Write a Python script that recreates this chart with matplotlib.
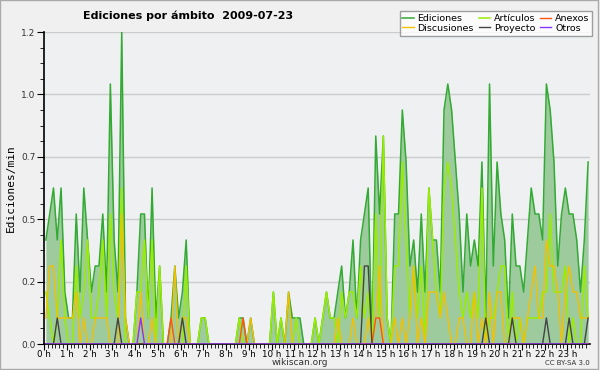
import matplotlib
matplotlib.use("Agg")
import matplotlib.pyplot as plt
import numpy as np
from matplotlib.patches import Rectangle

# Edits per minute, one value per 10-minute slot (6 per hour)
ediciones = [
    0.4, 0.5, 0.6, 0.4, 0.6, 0.2,
    0.1, 0.1, 0.5, 0.2, 0.6, 0.4,
    0.2, 0.3, 0.3, 0.5, 0.2, 1.0,
    0.4, 0.2, 1.2, 0.1, 0.0, 0.0,
    0.2, 0.5, 0.5, 0.1, 0.6, 0.1,
    0.3, 0.0, 0.0, 0.1, 0.3, 0.1,
    0.2, 0.4, 0.0, 0.0, 0.0, 0.1,
    0.1, 0.0, 0.0, 0.0, 0.0, 0.0,
    0.0, 0.0, 0.0, 0.1, 0.1, 0.0,
    0.1, 0.0, 0.0, 0.0, 0.0, 0.0,
    0.2, 0.0, 0.1, 0.0, 0.2, 0.1,
    0.1, 0.1, 0.0, 0.0, 0.0, 0.1,
    0.0, 0.1, 0.2, 0.1, 0.1, 0.2,
    0.3, 0.1, 0.2, 0.4, 0.1, 0.4,
    0.5, 0.6, 0.0, 0.8, 0.5, 0.8,
    0.1, 0.0, 0.5, 0.5, 0.9, 0.7,
    0.3, 0.4, 0.2, 0.5, 0.2, 0.6,
    0.4, 0.4, 0.2, 0.9, 1.0, 0.9,
    0.7, 0.5, 0.2, 0.5, 0.3, 0.4,
    0.3, 0.7, 0.1, 1.0, 0.3, 0.7,
    0.5, 0.4, 0.1, 0.5, 0.3, 0.3,
    0.2, 0.4, 0.6, 0.5, 0.5, 0.4,
    1.0, 0.9, 0.7, 0.3, 0.5, 0.6,
    0.5, 0.5, 0.4, 0.2, 0.4, 0.7,
]
articulos = [
    0.2, 0.1, 0.0, 0.1, 0.4, 0.1,
    0.0, 0.0, 0.3, 0.1, 0.2, 0.4,
    0.1, 0.1, 0.2, 0.4, 0.1, 0.5,
    0.2, 0.1, 0.6, 0.0, 0.0, 0.0,
    0.2, 0.2, 0.4, 0.1, 0.4, 0.0,
    0.3, 0.0, 0.0, 0.0, 0.0, 0.0,
    0.0, 0.3, 0.0, 0.0, 0.0, 0.1,
    0.1, 0.0, 0.0, 0.0, 0.0, 0.0,
    0.0, 0.0, 0.0, 0.1, 0.0, 0.0,
    0.0, 0.0, 0.0, 0.0, 0.0, 0.0,
    0.2, 0.0, 0.1, 0.0, 0.0, 0.0,
    0.1, 0.0, 0.0, 0.0, 0.0, 0.1,
    0.0, 0.1, 0.2, 0.1, 0.1, 0.0,
    0.2, 0.1, 0.2, 0.2, 0.1, 0.3,
    0.1, 0.2, 0.0, 0.5, 0.1, 0.8,
    0.1, 0.0, 0.3, 0.3, 0.7, 0.4,
    0.1, 0.3, 0.1, 0.3, 0.0, 0.6,
    0.4, 0.2, 0.1, 0.6, 0.7, 0.6,
    0.4, 0.2, 0.1, 0.2, 0.1, 0.2,
    0.1, 0.6, 0.0, 0.1, 0.1, 0.2,
    0.3, 0.3, 0.0, 0.2, 0.0, 0.1,
    0.0, 0.1, 0.1, 0.1, 0.1, 0.2,
    0.2, 0.5, 0.2, 0.2, 0.2, 0.3,
    0.0, 0.1, 0.0, 0.0, 0.3, 0.1,
]
discusiones = [
    0.1, 0.3, 0.3, 0.1, 0.1, 0.1,
    0.1, 0.1, 0.2, 0.0, 0.1, 0.0,
    0.0, 0.1, 0.1, 0.1, 0.1, 0.0,
    0.0, 0.0, 0.5, 0.1, 0.0, 0.0,
    0.0, 0.2, 0.0, 0.0, 0.1, 0.0,
    0.0, 0.0, 0.0, 0.0, 0.3, 0.0,
    0.1, 0.1, 0.0, 0.0, 0.0, 0.0,
    0.0, 0.0, 0.0, 0.0, 0.0, 0.0,
    0.0, 0.0, 0.0, 0.0, 0.0, 0.0,
    0.1, 0.0, 0.0, 0.0, 0.0, 0.0,
    0.0, 0.0, 0.0, 0.0, 0.2, 0.0,
    0.0, 0.0, 0.0, 0.0, 0.0, 0.0,
    0.0, 0.0, 0.0, 0.0, 0.0, 0.1,
    0.0, 0.0, 0.0, 0.1, 0.0, 0.0,
    0.0, 0.1, 0.0, 0.1, 0.3, 0.0,
    0.0, 0.0, 0.1, 0.0, 0.1, 0.0,
    0.1, 0.3, 0.0, 0.1, 0.0, 0.2,
    0.2, 0.2, 0.1, 0.2, 0.1, 0.0,
    0.0, 0.1, 0.1, 0.0, 0.0, 0.2,
    0.0, 0.1, 0.0, 0.2, 0.0, 0.2,
    0.2, 0.0, 0.0, 0.1, 0.1, 0.1,
    0.0, 0.1, 0.2, 0.3, 0.1, 0.1,
    0.4, 0.3, 0.3, 0.2, 0.0, 0.2,
    0.3, 0.2, 0.2, 0.1, 0.1, 0.1,
]
# sparse series: slot index -> value
anexos_slots = {33: 0.1, 52: 0.1, 87: 0.1, 88: 0.1}
proyecto_slots = {3: 0.1, 19: 0.1, 36: 0.1, 84: 0.3, 85: 0.3, 116: 0.1,
                  123: 0.1, 132: 0.1, 138: 0.1, 143: 0.1}
otros_slots = {25: 0.1}

hour_labels = [f"{h} h" for h in range(24)]
ytick_vals = [0.0, 0.24, 0.48, 0.72, 0.96, 1.2]


def sparse(slots, n=144):
    out = np.zeros(n)
    for k, v in slots.items():
        out[k] = v
    return out


n = len(ediciones)
t = (np.arange(n) + 0.5) / 6.0  # hours, slot centres

fig = plt.figure(figsize=(6.0, 3.7), dpi=100, facecolor="#f0f0f0")
ax = fig.add_axes([44 / 600, 26 / 370, 546 / 600, 312 / 370])
ax.set_facecolor("#eef0f2")

ax.fill_between(t, 0, ediciones, color="#9dcb9d", lw=0, zorder=1)
l_ed, = ax.plot(t, ediciones, color="#33aa33", lw=1.1, zorder=3)
l_ar, = ax.plot(t, articulos, color="#99ee00", lw=1.1, zorder=4)
l_di, = ax.plot(t, discusiones, color="#f5c000", lw=1.0, zorder=5)
l_an, = ax.plot(t, sparse(anexos_slots), color="#ff5511", lw=1.0, zorder=5)
l_pr, = ax.plot(t, sparse(proyecto_slots), color="#444444", lw=1.0, zorder=6)
l_ot, = ax.plot(t, sparse(otros_slots), color="#8833ff", lw=1.0, zorder=6)

ax.set_xlim(0, 24)
ax.set_ylim(0, 1.2)
ax.set_xticks(range(24))
ax.set_xticklabels(hour_labels, fontsize=6.3)
ax.set_xticks(np.arange(0, 24, 1 / 6), minor=True)
ax.set_yticks(ytick_vals)
ax.set_yticklabels([f"{v:.1f}" for v in ytick_vals], fontsize=6.5, color="#333333")
ax.set_yticks(np.arange(0, 1.21, 0.06), minor=True)
ax.tick_params(axis="x", which="major", length=4, pad=0.5, colors="black")
ax.tick_params(axis="x", which="minor", length=3)
ax.tick_params(axis="y", which="major", length=5, pad=1)
ax.tick_params(axis="y", which="minor", length=3)
ax.grid(axis="y", color="#cccccc", lw=1.0, zorder=0)
ax.set_axisbelow(True)
for side in ("top", "right"):
    ax.spines[side].set_visible(False)
ax.spines["left"].set_linewidth(1.2)
ax.spines["bottom"].set_linewidth(1.2)

ax.set_ylabel("Ediciones/min", fontsize=8, family="DejaVu Sans Mono", labelpad=4)

fig.text(0.314, 0.958, "Ediciones por ámbito  2009-07-23", fontsize=8,
         fontweight="bold", ha="center", va="center")

# legend is filled column by column: order gives rows Ediciones/Artículos/Anexos
handles = [l_ed, l_di, l_ar, l_pr, l_an, l_ot]
labels = ["Ediciones", "Discusiones", "Artículos", "Proyecto", "Anexos", "Otros"]
leg = fig.legend(handles, labels, loc="upper right", bbox_to_anchor=(0.995, 0.982),
                 ncol=3, fontsize=6.8, frameon=True, fancybox=False,
                 handlelength=1.2, handletextpad=0.4, columnspacing=0.5,
                 labelspacing=0.05, borderpad=0.3)
leg.get_frame().set_edgecolor("#888888")
leg.get_frame().set_facecolor("white")
leg.get_frame().set_linewidth(1.0)

fig.text(0.5, 0.021, "wikiscan.org", fontsize=6.5, ha="center", va="center",
         color="#333333")
fig.text(0.983, 0.02, "CC BY-SA 3.0", fontsize=5, ha="right", va="center",
         color="#333333")

# thin frame on the right and bottom edges of the image
fig.patches.append(Rectangle((0, 0.004), 0.996, 0.996, transform=fig.transFigure,
                             fill=False, edgecolor="#aaaaaa", lw=1.0))

fig.savefig("out.png", dpi=100, facecolor=fig.get_facecolor())
